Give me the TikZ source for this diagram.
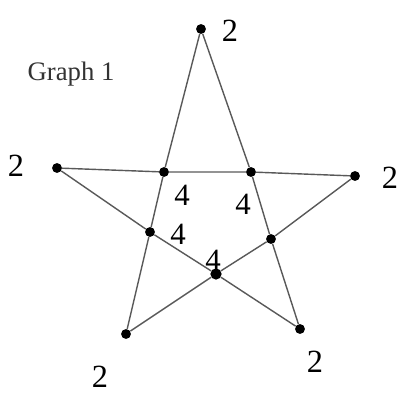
\documentclass[tikz,border=0pt]{standalone}
\usepackage{fontspec}
\setmainfont{Liberation Serif}
\usetikzlibrary{positioning}

\begin{document}
\begin{tikzpicture}[x=0.025cm, y=-0.025cm,
  vertex/.style={circle, fill=black, inner sep=0pt, minimum size=7pt},
  edge/.style={draw=black!65, line width=1pt},
  degree/.style={font=\fontsize{23}{23}\selectfont, inner sep=0pt},
  crosslabel/.style={font=\fontsize{22}{22}\selectfont, inner sep=0pt}
]
\useasboundingbox (0,0) rectangle (401,395);

\node[font=\fontsize{19}{19}\selectfont, text=black!80] (title) at (71,74) {Graph 1};

% outer points
\node[vertex] (top) at (201,29) {};
\node[vertex] (left) at (57,168) {};
\node[vertex] (right) at (355,176) {};
\node[vertex] (botleft) at (126,334) {};
\node[vertex] (botright) at (300,329) {};

% inner crossings
\node[vertex] (intl) at (164,172) {};
\node[vertex] (intr) at (251,172) {};
\node[vertex] (inl) at (150,232) {};
\node[vertex] (inr) at (271,239) {};
\node[vertex, minimum size=8pt] (inb) at (216,274) {};

% edges
\draw[edge] (top) -- (intl) -- (inl) -- (botleft);
\draw[edge] (top) -- (intr) -- (inr) -- (botright);
\draw[edge] (left) -- (intl) -- (intr) -- (right);
\draw[edge] (left) -- (inl) -- (inb) -- (botright);
\draw[edge] (right) -- (inr) -- (inb) -- (botleft);

% degrees
\node[degree] (dtop) at (230,31) {2};
\node[degree] (dleft) at (16,166) {2};
\node[degree] (dright) at (390,178) {2};
\node[degree] (dbotleft) at (100,377) {2};
\node[degree] (dbotright) at (315,362) {2};
\node[crosslabel] (dintl) at (182,195) {4};
\node[crosslabel] (dintr) at (243,204) {4};
\node[crosslabel] (dinl) at (178,234) {4};
\node[crosslabel] (dinb) at (213,260) {4};

\end{tikzpicture}
\end{document}
